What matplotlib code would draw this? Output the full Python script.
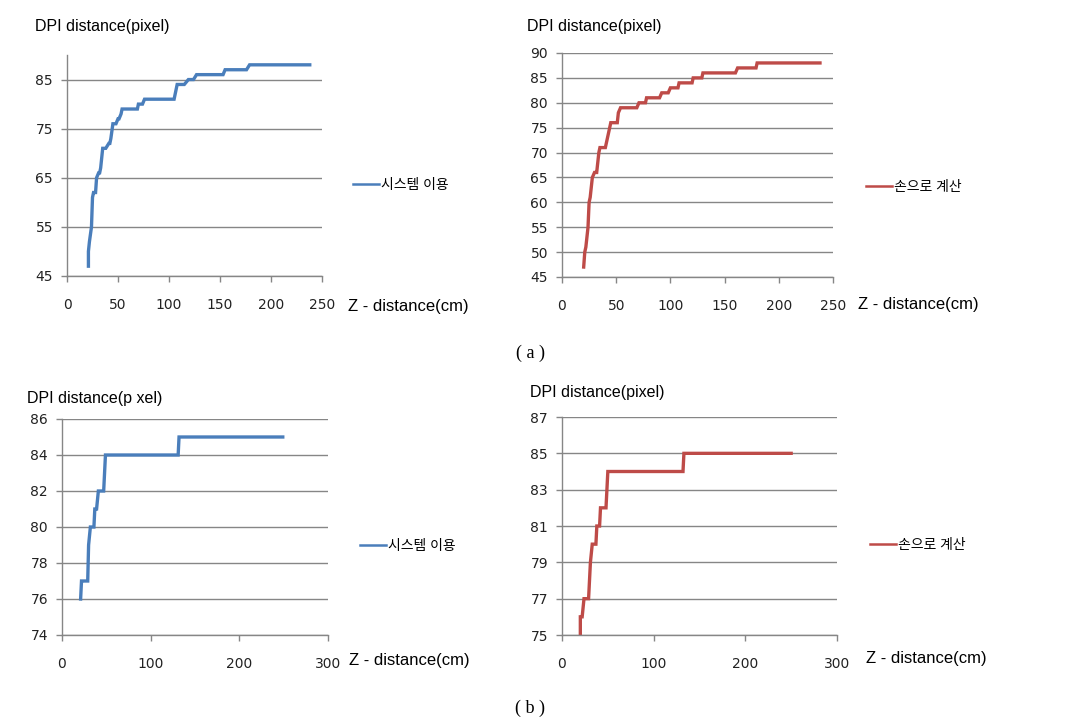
import matplotlib
matplotlib.use("Agg")
import matplotlib.pyplot as plt
from matplotlib.ticker import MultipleLocator, FixedLocator

plt.rcParams["font.family"] = ["Liberation Sans", "Noto Sans CJK KR"]

# (a) system vs hand-calculated
a_sys_x = [21, 21, 22, 24, 25, 26, 28, 29, 31, 32, 33, 35, 38, 41, 42, 43, 45, 48, 50, 51, 53, 54, 69, 70, 74, 76, 105, 108, 115, 119, 124, 127, 153, 155, 176, 179, 238]
a_sys_y = [47, 50, 52, 55, 61, 62, 62, 65, 66, 66, 67, 71, 71, 72, 72, 73, 76, 76, 77, 77, 78, 79, 79, 80, 80, 81, 81, 84, 84, 85, 85, 86, 86, 87, 87, 88, 88]

a_hand_x = [20, 21, 22, 24, 25, 26, 28, 30, 32, 34, 35, 40, 42, 45, 51, 52, 54, 69, 71, 77, 78, 90, 92, 98, 100, 107, 108, 120, 121, 129, 130, 160, 162, 179, 180, 238]
a_hand_y = [47, 50, 51, 55, 60, 61, 65, 66, 66, 70, 71, 71, 73, 76, 76, 78, 79, 79, 80, 80, 81, 81, 82, 82, 83, 83, 84, 84, 85, 85, 86, 86, 87, 87, 88, 88]

# (b) system vs hand-calculated
b_sys_x = [21, 22, 23, 29, 30, 32, 36, 37, 39, 41, 47, 49, 131, 132, 249]
b_sys_y = [76, 77, 77, 77, 79, 80, 80, 81, 81, 82, 82, 84, 84, 85, 85]

b_hand_x = [20, 20, 22, 24, 29, 30, 31, 33, 37, 38, 41, 42, 48, 50, 132, 133, 250]
b_hand_y = [75, 76, 76, 77, 77, 78, 79, 80, 80, 81, 81, 82, 82, 84, 84, 85, 85]

label_sys = "시스템 이용"
label_hand = "손으로 계산"

BLUE = "#4A7EBB"
RED = "#BE4B48"
GRID = "#868686"

W, H = 1074, 725
fig = plt.figure(figsize=(W / 100, H / 100), dpi=100)


def px_axes(left, right, top, bottom):
    return fig.add_axes([left / W, 1 - bottom / H, (right - left) / W, (bottom - top) / H])


def style(ax, xmax, xstep, ylo, yhi, yticks):
    ax.set_xlim(0, xmax)
    ax.set_ylim(ylo, yhi)
    ax.xaxis.set_major_locator(MultipleLocator(xstep))
    ax.yaxis.set_major_locator(FixedLocator(yticks))
    ax.grid(axis="y", color=GRID, linewidth=1)
    ax.set_axisbelow(True)
    for s in ["top", "right"]:
        ax.spines[s].set_visible(False)
    for s in ["left", "bottom"]:
        ax.spines[s].set_color(GRID)
        ax.spines[s].set_linewidth(1)
    ax.tick_params(axis="both", colors=GRID, length=4, width=1, labelsize=10, labelcolor="#222222")
    ax.tick_params(axis="x", pad=12)
    ax.tick_params(axis="y", pad=6)
    for lab in ax.get_xticklabels() + ax.get_yticklabels():
        lab.set_family("DejaVu Sans")


def panel(box, xs, ys, color, label, xmax, xstep, ylo, yhi, yticks,
          title_xy, leg_xy, zlab_xy, title="DPI distance(pixel)"):
    ax = px_axes(*box)
    ax.plot(xs, ys, color=color, linewidth=2.4, label=label, solid_joinstyle="miter")
    style(ax, xmax, xstep, ylo, yhi, yticks)
    fig.text(title_xy[0] / W, 1 - title_xy[1] / H, title, fontsize=11.5, va="center", ha="left")
    fig.text(zlab_xy[0] / W, 1 - zlab_xy[1] / H, "Z - distance(cm)", fontsize=12, va="center", ha="left")
    leg = ax.legend(loc="center left", bbox_to_anchor=(leg_xy[0] / W, 1 - leg_xy[1] / H),
                    bbox_transform=fig.transFigure, frameon=False, fontsize=10,
                    handlelength=1.9, handletextpad=0.15, borderpad=0, borderaxespad=0)
    for h in leg.get_lines():
        h.set_linewidth(1.8)
    return ax


panel((67, 322, 55, 276), a_sys_x, a_sys_y, BLUE, label_sys, 250, 50, 45, 90,
      [45, 55, 65, 75, 85], (35, 27), (353, 185), (348, 306))
panel((562, 833, 53, 277), a_hand_x, a_hand_y, RED, label_hand, 250, 50, 45, 90,
      list(range(45, 91, 5)), (527, 27), (866, 187), (858, 304))
panel((62, 328, 419, 635), b_sys_x, b_sys_y, BLUE, label_sys, 300, 100, 74, 86,
      list(range(74, 87, 2)), (27, 399), (360, 546), (349, 661),
      title="DPI distance(p xel)")
panel((562, 837, 417, 635), b_hand_x, b_hand_y, RED, label_hand, 300, 100, 75, 87,
      list(range(75, 88, 2)), (530, 393), (870, 545), (866, 659))

fig.text(530 / W, 1 - 353 / H, "( a )", fontsize=13, family="Liberation Serif", ha="center", va="center")
fig.text(530 / W, 1 - 708 / H, "( b )", fontsize=13, family="Liberation Serif", ha="center", va="center")

fig.savefig("out.png", dpi=100)
